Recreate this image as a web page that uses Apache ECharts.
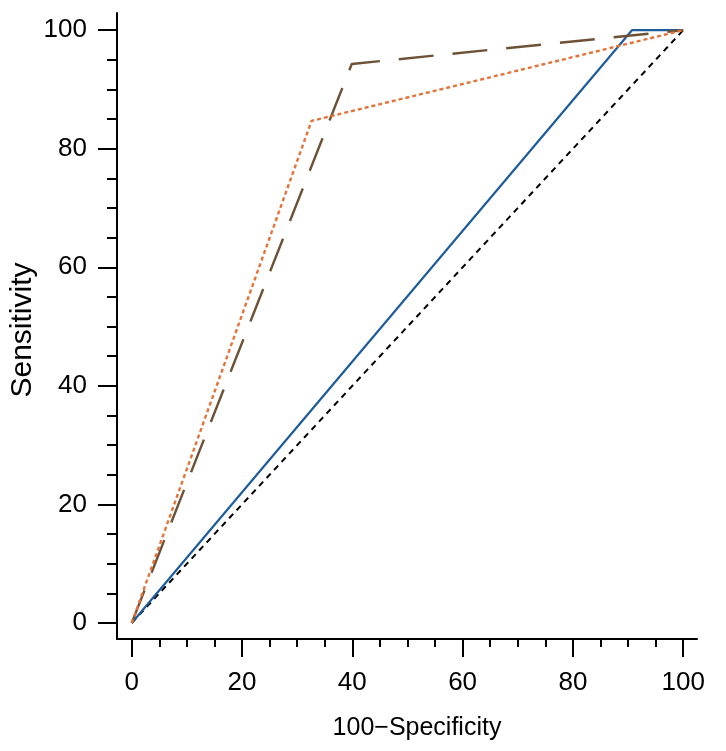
<!DOCTYPE html>
<html>
<head>
<meta charset="utf-8">
<style>
  html, body { margin: 0; padding: 0; background: #fff; }
  #chart { width: 726px; height: 751px; }
</style>
<script src="https://cdn.jsdelivr.net/npm/echarts@6/dist/echarts.min.js"></script>
</head>
<body>
<div id="chart"></div>
<script>
// ROC curves, 100-Specificity vs Sensitivity
const diagX = [0, 100];
const diagY = [0, 100];
const blueX = [0, 90.7, 100];
const blueY = [0, 100, 100];
const brownX = [0, 39.9, 100];
const brownY = [0, 94.3, 100];
const orangeX = [0, 32.6, 100];
const orangeY = [0, 84.7, 100];

const majorTicks = [0, 20, 40, 60, 80, 100];
const minorTicks = [5, 10, 15, 25, 30, 35, 45, 50, 55, 65, 70, 75, 85, 90, 95];

const FONT = "Liberation Sans, Arial, Helvetica, sans-serif";
const INK = "#000";

function pairs(xs, ys) {
  return xs.map((x, i) => [x, ys[i]]);
}

const chart = echarts.init(document.getElementById("chart"), null, { renderer: "canvas" });

const xRange = { min: -2.67, max: 102.5 };
const yRange = { min: -2.7, max: 102.9 };

function majorAxis(range, isX) {
  return {
    type: "value",
    position: isX ? "bottom" : "left",
    min: range.min,
    max: range.max,
    splitLine: { show: false },
    axisLine: { show: true, onZero: false, lineStyle: { color: INK, width: 2 } },
    axisTick: { show: true, customValues: majorTicks, length: isX ? 18 : 19, lineStyle: { color: INK, width: 2 } },
    axisLabel: {
      show: true,
      customValues: majorTicks,
      margin: isX ? 31 : 30,
      color: INK,
      fontSize: 26,
      fontFamily: FONT,
    },
  };
}

function minorAxis(range, isX) {
  return {
    type: "value",
    position: isX ? "bottom" : "left",
    min: range.min,
    max: range.max,
    splitLine: { show: false },
    axisLine: { show: false, onZero: false },
    axisTick: { show: true, customValues: minorTicks, length: isX ? 8 : 10, lineStyle: { color: INK, width: 2 } },
    axisLabel: { show: false },
  };
}

const xMain = Object.assign(majorAxis(xRange, true), {
  name: "100\u2212Specificity",
  nameLocation: "middle",
  nameGap: 77,
  nameTextStyle: { color: INK, fontSize: 25, fontFamily: FONT, padding: [0, 0, 0, 20] },
});
const yMain = Object.assign(majorAxis(yRange, false), {
  name: "Sensitivity",
  nameLocation: "middle",
  nameGap: 79,
  nameMoveOverlap: false,
  nameTextStyle: { color: INK, fontSize: 30, fontFamily: FONT, padding: [0, 8, 0, 0] },
});

chart.setOption({
  animation: false,
  backgroundColor: "#fff",
  grid: { left: 117, right: 29, top: 13, bottom: 112, containLabel: false, outerBoundsMode: "none" },
  xAxis: [xMain, minorAxis(xRange, true)],
  yAxis: [yMain, minorAxis(yRange, false)],
  series: [
    {
      name: "reference",
      type: "line",
      data: pairs(diagX, diagY),
      symbol: "none",
      lineStyle: { color: "#000", width: 2, type: [6, 5] },
      z: 1,
    },
    {
      name: "blue",
      type: "line",
      data: pairs(blueX, blueY),
      symbol: "none",
      lineStyle: { color: "#1f5c9c", width: 2.2 },
      z: 2,
    },
    {
      name: "brown",
      type: "line",
      data: pairs(brownX, brownY),
      symbol: "none",
      lineStyle: { color: "#6e5236", width: 2.4, type: [35, 19] },
      z: 3,
    },
    {
      name: "orange",
      type: "line",
      data: pairs(orangeX, orangeY),
      symbol: "none",
      lineStyle: { color: "#e4733a", width: 2.4, type: [4, 3] },
      z: 4,
    },
  ],
});
</script>
</body>
</html>
